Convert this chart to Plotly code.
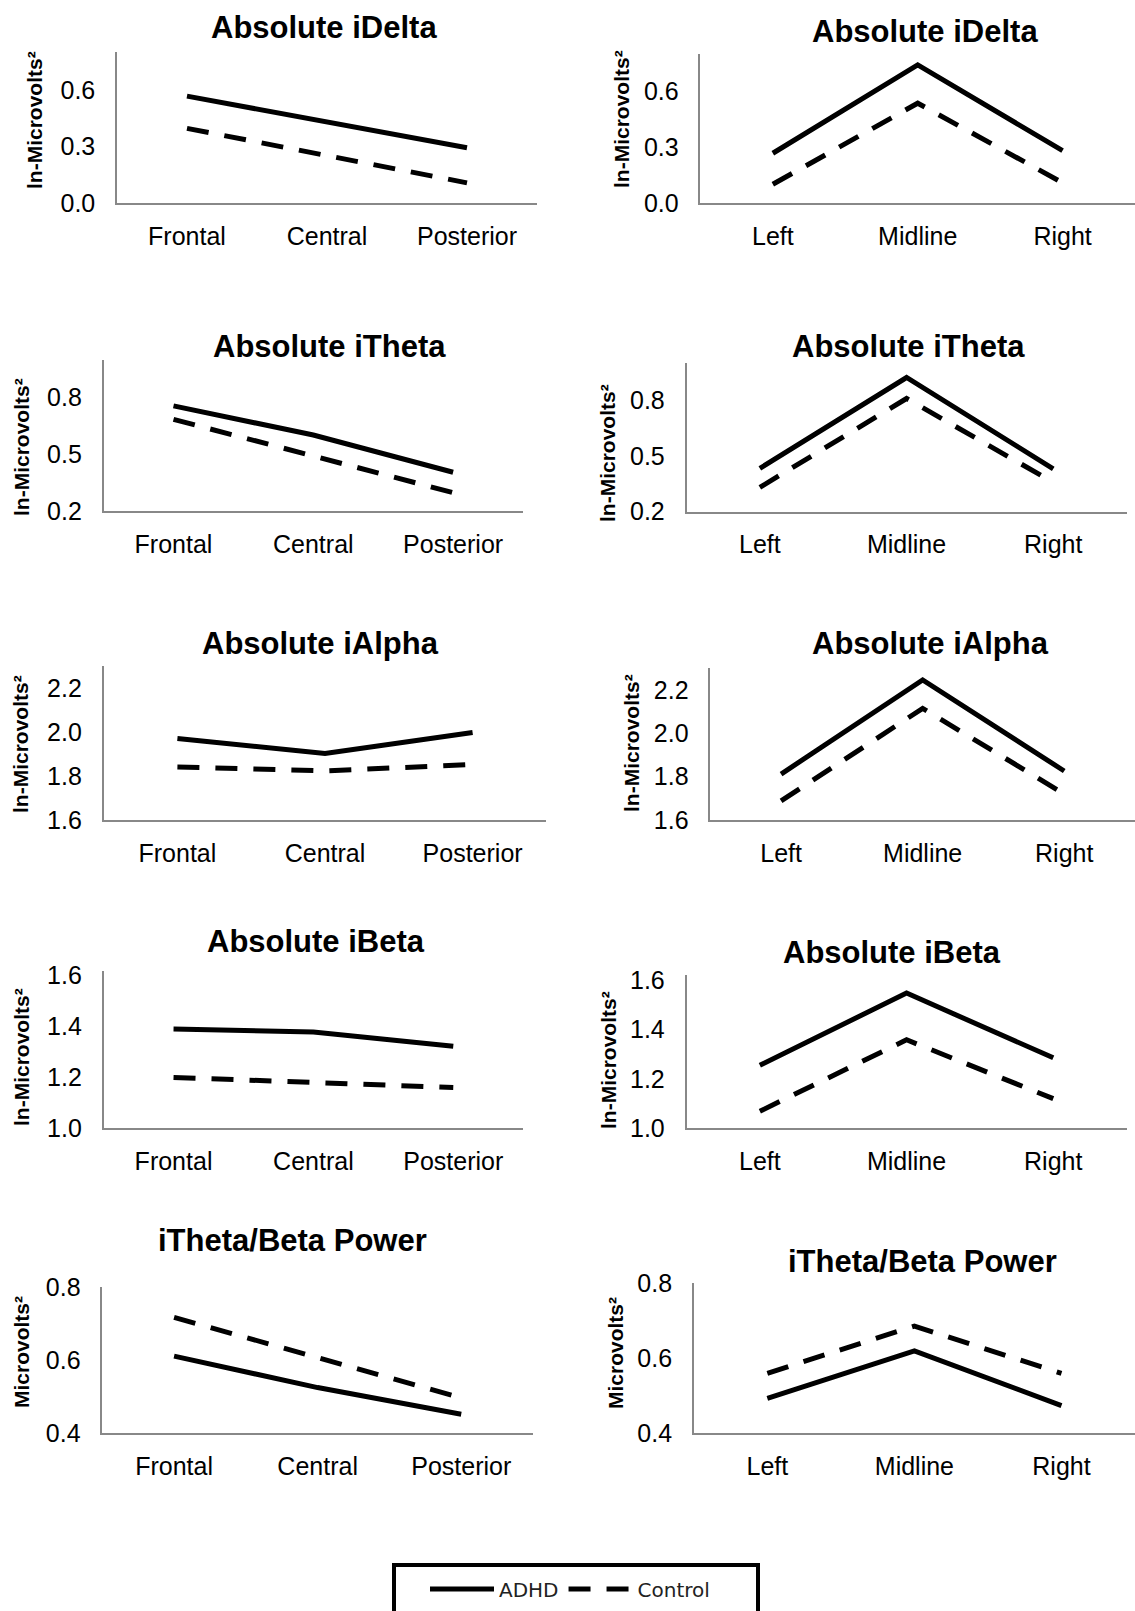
import plotly.graph_objects as go

W, H = 1135, 1611

# ---------------- data ----------------
regions_ap = ["Frontal", "Central", "Posterior"]
regions_lr = ["Left", "Midline", "Right"]

titles = ["Absolute iDelta", "Absolute iDelta",
          "Absolute iTheta", "Absolute iTheta",
          "Absolute iAlpha", "Absolute iAlpha",
          "Absolute iBeta", "Absolute iBeta",
          "iTheta/Beta Power", "iTheta/Beta Power"]
ylabels = ["ln-Microvolts²"] * 8 + ["Microvolts²", "Microvolts²"]

delta_ap_adhd = [0.568, 0.43, 0.294]
delta_ap_ctrl = [0.397, 0.25, 0.108]
delta_lr_adhd = [0.268, 0.741, 0.282]
delta_lr_ctrl = [0.102, 0.536, 0.110]

theta_ap_adhd = [0.756, 0.602, 0.405]
theta_ap_ctrl = [0.685, 0.491, 0.297]
theta_lr_adhd = [0.433, 0.922, 0.431]
theta_lr_ctrl = [0.331, 0.809, 0.358]

alpha_ap_adhd = [1.971, 1.903, 1.999]
alpha_ap_ctrl = [1.842, 1.824, 1.853]
alpha_lr_adhd = [1.812, 2.246, 1.826]
alpha_lr_ctrl = [1.688, 2.115, 1.720]

beta_ap_adhd = [1.390, 1.378, 1.322]
beta_ap_ctrl = [1.200, 1.182, 1.160]
beta_lr_adhd = [1.255, 1.547, 1.285]
beta_lr_ctrl = [1.069, 1.358, 1.120]

tbr_ap_adhd = [0.611, 0.525, 0.452]
tbr_ap_ctrl = [0.717, 0.607, 0.497]
tbr_lr_adhd = [0.493, 0.620, 0.474]
tbr_lr_ctrl = [0.560, 0.686, 0.560]

yticks_delta = [0.0, 0.3, 0.6]
yticks_theta = [0.2, 0.5, 0.8]
yticks_alpha = [1.6, 1.8, 2.0, 2.2]
yticks_beta = [1.0, 1.2, 1.4, 1.6]
yticks_tbr = [0.4, 0.6, 0.8]

yrange_delta = [0.0, 0.8]
yrange_theta = [0.2, 1.0]
yrange_alpha = [1.6, 2.3]
yrange_beta = [1.0, 1.62]
yrange_tbr = [0.4, 0.8]

series_names = ["ADHD", "Control"]

panels_data = [
    (regions_ap, delta_ap_adhd, delta_ap_ctrl, yticks_delta, yrange_delta),
    (regions_lr, delta_lr_adhd, delta_lr_ctrl, yticks_delta, yrange_delta),
    (regions_ap, theta_ap_adhd, theta_ap_ctrl, yticks_theta, yrange_theta),
    (regions_lr, theta_lr_adhd, theta_lr_ctrl, yticks_theta, yrange_theta),
    (regions_ap, alpha_ap_adhd, alpha_ap_ctrl, yticks_alpha, yrange_alpha),
    (regions_lr, alpha_lr_adhd, alpha_lr_ctrl, yticks_alpha, yrange_alpha),
    (regions_ap, beta_ap_adhd, beta_ap_ctrl, yticks_beta, yrange_beta),
    (regions_lr, beta_lr_adhd, beta_lr_ctrl, yticks_beta, yrange_beta),
    (regions_ap, tbr_ap_adhd, tbr_ap_ctrl, yticks_tbr, yrange_tbr),
    (regions_lr, tbr_lr_adhd, tbr_lr_ctrl, yticks_tbr, yrange_tbr),
]

# ---------------- layout (pixel geometry) ----------------
# x0, x1, y_top, y_bottom, title (x, y), ylabel (x, y)
geom = [
    (117.0, 537.0, 52.4, 203.2, (324, 28), (34, 120)),
    (700.4, 1135.0, 53.9, 203.3, (925, 31), (622, 119)),
    (103.6, 523.0, 359.8, 511.0, (329, 347), (21, 447)),
    (686.5, 1126.6, 363.0, 511.7, (908, 347), (608, 453)),
    (103.6, 546.4, 666.4, 820.0, (320, 643), (21, 744)),
    (710.3, 1135.0, 668.3, 820.0, (930, 643), (631, 743)),
    (103.6, 523.2, 970.5, 1128.3, (316, 941), (21, 1057)),
    (686.5, 1126.6, 975.0, 1128.3, (892, 952), (608, 1060)),
    (102.3, 533.0, 1287.0, 1433.3, (292, 1240), (21, 1352)),
    (693.8, 1135.0, 1283.3, 1433.3, (922, 1261), (615, 1353)),
]

TICK_FONT = dict(family="Liberation Sans, Arial", size=25, color="black")
TITLE_FONT = dict(family="Liberation Sans, Arial", size=31, color="black")
YLAB_FONT = dict(family="Liberation Sans, Arial", size=21, color="black")
AXIS_COLOR = "#888888"

fig = go.Figure()
annotations = []
layout_axes = {}

for i, ((cats, adhd, ctrl, yt, yr), g) in enumerate(zip(panels_data, geom)):
    n = i + 1
    xa = "x" if n == 1 else f"x{n}"
    ya = "y" if n == 1 else f"y{n}"
    x0, x1, yt_px, yb_px, tpos, lpos = g

    for name, vals, dash in ((series_names[0], adhd, "solid"),
                             (series_names[1], ctrl, "22px,16px")):
        fig.add_trace(go.Scatter(
            x=cats, y=vals, mode="lines", name=name,
            line=dict(color="black", width=5, dash=dash),
            xaxis=xa, yaxis=ya, showlegend=(n == 1),
            hoverinfo="skip"))

    layout_axes["xaxis" if n == 1 else f"xaxis{n}"] = dict(
        domain=[x0 / W, min(x1 / W, 1.0)], anchor=ya, type="category",
        range=[-0.5, 2.5], showline=True, linecolor=AXIS_COLOR, linewidth=1.5,
        showgrid=False, zeroline=False, ticks="", tickfont=TICK_FONT,
        ticklabelstandoff=10, fixedrange=True)
    layout_axes["yaxis" if n == 1 else f"yaxis{n}"] = dict(
        domain=[1 - yb_px / H, 1 - yt_px / H], anchor=xa,
        range=yr, tickvals=yt, tickformat=".1f",
        showline=True, linecolor=AXIS_COLOR, linewidth=1.5,
        showgrid=False, zeroline=False, ticks="", tickfont=TICK_FONT,
        ticklabelstandoff=15, fixedrange=True)

    annotations.append(dict(
        text=f"<b>{titles[i]}</b>", x=tpos[0] / W, y=1 - tpos[1] / H,
        xref="paper", yref="paper", xanchor="center", yanchor="middle",
        showarrow=False, font=TITLE_FONT))
    annotations.append(dict(
        text=f"<b>{ylabels[i]}</b>", x=lpos[0] / W, y=1 - lpos[1] / H,
        xref="paper", yref="paper", xanchor="center", yanchor="middle",
        textangle=-90, showarrow=False, font=YLAB_FONT))

# legend frame
shapes = [dict(type="rect", xref="paper", yref="paper",
               x0=394 / W, x1=758 / W, y0=1 - 1625 / H, y1=1 - 1565 / H,
               line=dict(color="black", width=4), fillcolor="white", layer="below")]

fig.update_layout(
    width=W, height=H,
    margin=dict(l=0, r=0, t=0, b=0, autoexpand=False),
    paper_bgcolor="white", plot_bgcolor="white",
    showlegend=True,
    legend=dict(orientation="h", x=570 / W, y=1 - 1589 / H,
                xanchor="center", yanchor="middle",
                font=dict(family="DejaVu Sans", size=20, color="#222222"),
                itemwidth=64, bgcolor="rgba(0,0,0,0)", borderwidth=0),
    annotations=annotations, shapes=shapes,
    **layout_axes)

fig.write_html("out.html")
